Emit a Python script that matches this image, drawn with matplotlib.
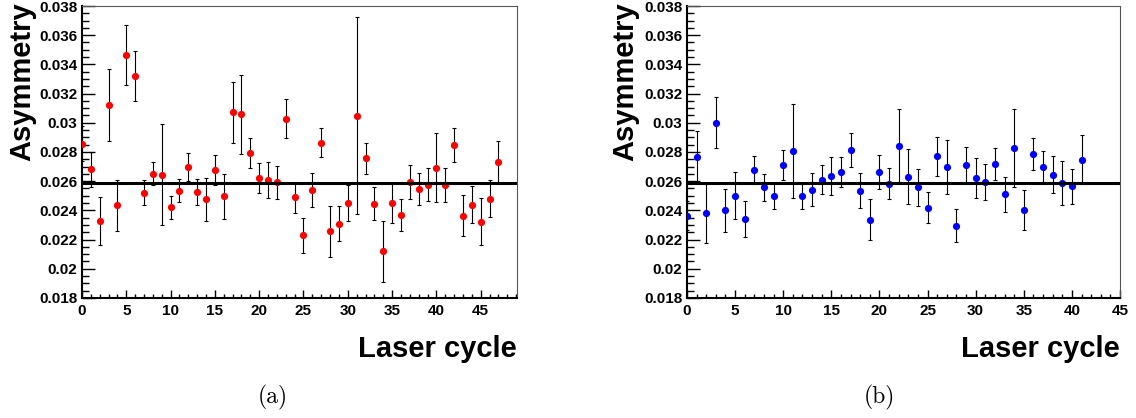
"""
Laser-cycle asymmetry, two run periods side by side (ROOT-style panels).
"""

import matplotlib

matplotlib.use("Agg")
import matplotlib.pyplot as plt
import numpy as np
from matplotlib.ticker import FormatStrFormatter, MultipleLocator

# Panel (a): red points, cycles 0..47
asym_a = [0.02855, 0.02681, 0.02326, 0.03122, 0.02435, 0.03465, 0.03321, 0.02521,
          0.02652, 0.02645, 0.02421, 0.02534, 0.02695, 0.02523, 0.02475, 0.02677,
          0.02496, 0.03072, 0.03058, 0.02792, 0.02622, 0.02609, 0.02593, 0.03027,
          0.02489, 0.02231, 0.02541, 0.02864, 0.02256, 0.02310, 0.02453, 0.03049,
          0.02756, 0.02446, 0.02119, 0.02448, 0.02369, 0.02595, 0.02546, 0.02575,
          0.02692, 0.02573, 0.02848, 0.02365, 0.02439, 0.02322, 0.02480, 0.02729]
err_a = [0.00120, 0.00119, 0.00164, 0.00246, 0.00176, 0.00207, 0.00172, 0.00086,
         0.00079, 0.00347, 0.00078, 0.00078, 0.00095, 0.00089, 0.00145, 0.00103,
         0.00154, 0.00207, 0.00271, 0.00103, 0.00105, 0.00121, 0.00112, 0.00133,
         0.00108, 0.00120, 0.00115, 0.00099, 0.00174, 0.00121, 0.00123, 0.00675,
         0.00107, 0.00113, 0.00206, 0.00133, 0.00108, 0.00114, 0.00111, 0.00114,
         0.00235, 0.00115, 0.00118, 0.00139, 0.00128, 0.00160, 0.00127, 0.00144]

# Panel (b): blue points, cycles 0..41
asym_b = [0.02365, 0.02767, 0.02380, 0.03002, 0.02401, 0.02502, 0.02340, 0.02677,
          0.02559, 0.02500, 0.02713, 0.02805, 0.02496, 0.02543, 0.02611, 0.02636,
          0.02665, 0.02814, 0.02534, 0.02336, 0.02663, 0.02584, 0.02841, 0.02631,
          0.02557, 0.02419, 0.02771, 0.02699, 0.02295, 0.02710, 0.02620, 0.02597,
          0.02717, 0.02509, 0.02828, 0.02401, 0.02785, 0.02697, 0.02645, 0.02590,
          0.02566, 0.02746]
err_b = [0.00100, 0.00177, 0.00200, 0.00177, 0.00148, 0.00158, 0.00123, 0.00096,
         0.00092, 0.00089, 0.00102, 0.00323, 0.00084, 0.00111, 0.00097, 0.00132,
         0.00103, 0.00114, 0.00120, 0.00142, 0.00115, 0.00106, 0.00254, 0.00190,
         0.00127, 0.00105, 0.00132, 0.00185, 0.00112, 0.00121, 0.00136, 0.00124,
         0.00107, 0.00122, 0.00268, 0.00137, 0.00110, 0.00108, 0.00125, 0.00151,
         0.00119, 0.00168]

mean_a = 0.02585
mean_b = 0.02587

fig = plt.figure(figsize=(11.36, 4.18), dpi=100)
ax_a = fig.add_axes([82 / 1136, 1 - 298 / 418, 435 / 1136, 292 / 418])
ax_b = fig.add_axes([687 / 1136, 1 - 298 / 418, 433 / 1136, 292 / 418])

panels = [
    (ax_a, asym_a, err_a, mean_a, "red", 49.1, 517, 273, "(a)"),
    (ax_b, asym_b, err_b, mean_b, "blue", 45, 1120, 879, "(b)"),
]

for ax, y, e, mean, col, xmax, right_px, cap_px, cap in panels:
    x = np.arange(len(y))
    ax.errorbar(x, y, yerr=e, fmt="none", ecolor="black", elinewidth=0.8,
                capsize=1.1, capthick=0.8, zorder=2)
    ax.plot(x, y, "o", color=col, markersize=5.2, markeredgewidth=0, zorder=3)
    ax.axhline(mean, color="black", lw=2.2, zorder=4)

    ax.set_xlim(0, xmax)
    ax.set_ylim(0.018, 0.038)
    ax.xaxis.set_major_locator(MultipleLocator(5))
    ax.xaxis.set_minor_locator(MultipleLocator(1))
    ax.yaxis.set_major_locator(MultipleLocator(0.002))
    ax.yaxis.set_minor_locator(MultipleLocator(0.0005))
    ax.yaxis.set_major_formatter(FormatStrFormatter("%g"))

    ax.tick_params(which="both", direction="in", top=False, right=False,
                   labelsize=11, width=1.0)
    ax.tick_params(axis="y", which="major", length=9.5)
    ax.tick_params(axis="y", which="minor", length=5)
    ax.tick_params(axis="x", which="major", length=6, pad=4)
    ax.tick_params(axis="x", which="minor", length=3)
    for lab in ax.get_xticklabels() + ax.get_yticklabels():
        lab.set_fontweight("bold")
        lab.set_family("Liberation Sans")

    for s in ("left", "bottom"):
        ax.spines[s].set_linewidth(1.5)
    for s in ("top", "right"):
        ax.spines[s].set_linewidth(0.8)
        ax.spines[s].set_color("#555555")

    fig.text(right_px / 1136, 1 - 357 / 418, "Laser cycle", ha="right",
             va="baseline", fontsize=21, fontweight="bold", family="Liberation Sans")
    fig.text(cap_px / 1136, 1 - 397 / 418, cap, ha="center", va="center",
             fontsize=17, family="cmr10")

for left_px in (8, 611):
    fig.text(left_px / 1136, 1 - 2 / 418, "Asymmetry", rotation=90, ha="left",
             va="top", fontsize=21, fontweight="bold", family="Liberation Sans")

fig.savefig("out.png", dpi=100)
